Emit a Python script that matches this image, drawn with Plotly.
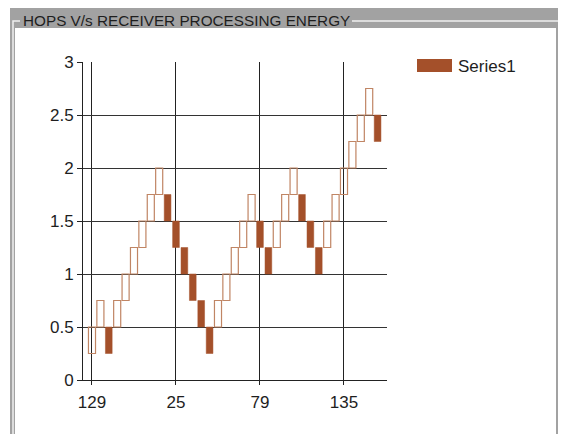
import plotly.graph_objects as go

# ---- data (brick chart, 0.25 brick size) ----
brick_low = [0.25, 0.5, 0.25, 0.5, 0.75, 1.0, 1.25, 1.5, 1.75, 1.5,
             1.25, 1.0, 0.75, 0.5, 0.25, 0.5, 0.75, 1.0, 1.25, 1.5,
             1.25, 1.0, 1.25, 1.5, 1.75, 1.5, 1.25, 1.0, 1.25, 1.5,
             1.75, 2.0, 2.25, 2.5, 2.25]
brick_high = [0.5, 0.75, 0.5, 0.75, 1.0, 1.25, 1.5, 1.75, 2.0, 1.75,
              1.5, 1.25, 1.0, 0.75, 0.5, 0.75, 1.0, 1.25, 1.5, 1.75,
              1.5, 1.25, 1.5, 1.75, 2.0, 1.75, 1.5, 1.25, 1.5, 1.75,
              2.0, 2.25, 2.5, 2.75, 2.5]
brick_dir = ["up", "up", "down", "up", "up", "up", "up", "up", "up", "down",
             "down", "down", "down", "down", "down", "up", "up", "up", "up", "up",
             "down", "down", "up", "up", "up", "down", "down", "down", "up", "up",
             "up", "up", "up", "up", "down"]
x_tick_pos = [0, 10, 20, 30]
x_tick_text = ["129", "25", "79", "135"]
series_name = "Series1"
title_text = "HOPS V/s RECEIVER PROCESSING ENERGY"

BROWN = "#A4502A"
OUTLINE = "#C08564"
FONT = "Liberation Sans, Arial"
OFF = 8                      # page body margin in the browser
W, H = 566 - OFF, 434 - OFF  # figure size so it fills the window
L, T, PW, PH = 83 - OFF, 62 - OFF, 304, 318


def px(x):   # page pixel -> paper coordinate
    return (x - OFF - L) / PW


def py(y):
    return 1 - (y - OFF - T) / PH


idx = list(range(len(brick_low)))
up_x = [i for i in idx if brick_dir[i] == "up"]
dn_x = [i for i in idx if brick_dir[i] == "down"]

fig = go.Figure()
fig.add_trace(go.Bar(
    x=up_x,
    y=[brick_high[i] - brick_low[i] for i in up_x],
    base=[brick_low[i] for i in up_x],
    width=0.84,
    marker=dict(color="rgba(255,255,255,0)", line=dict(color=OUTLINE, width=1.2)),
    name=series_name, showlegend=False,
))
fig.add_trace(go.Bar(
    x=dn_x,
    y=[brick_high[i] - brick_low[i] for i in dn_x],
    base=[brick_low[i] for i in dn_x],
    width=0.8,
    marker=dict(color=BROWN, line=dict(color=BROWN, width=0.5)),
    name=series_name, showlegend=False,
))

shapes = [
    # gray frame
    dict(type="rect", xref="paper", yref="paper", x0=px(10), x1=px(566), y0=py(434), y1=py(7),
         fillcolor="#A2A2A2", line=dict(width=0), layer="below"),
    # white panel
    dict(type="rect", xref="paper", yref="paper", x0=px(15), x1=px(556), y0=py(434), y1=py(28),
         fillcolor="#FFFFFF", line=dict(width=0), layer="below"),
    # group box outline
    dict(type="path", xref="paper", yref="paper",
         path=f"M {px(20)},{py(21)} L {px(13)},{py(21)} L {px(13)},{py(434)}",
         line=dict(color="#EFEFEF", width=1.5)),
    dict(type="path", xref="paper", yref="paper",
         path=f"M {px(352)},{py(21)} L {px(560)},{py(21)} L {px(560)},{py(434)}",
         line=dict(color="#EFEFEF", width=1.5)),
    # legend swatch
    dict(type="rect", xref="paper", yref="paper", x0=px(417), x1=px(452), y0=py(72), y1=py(59),
         fillcolor=BROWN, line=dict(width=0)),
]

annotations = [
    dict(text=title_text, xref="paper", yref="paper", x=px(21), y=py(20),
         xanchor="left", yanchor="middle", showarrow=False,
         font=dict(family=FONT, size=15.3, color="#1E1E1E")),
    dict(text=series_name, xref="paper", yref="paper", x=px(456), y=py(66),
         xanchor="left", yanchor="middle", showarrow=False,
         font=dict(family=FONT, size=17, color="#1E1E1E")),
]

fig.update_layout(
    width=W, height=H,
    margin=dict(l=L, r=W - L - PW, t=T, b=H - T - PH, autoexpand=False),
    paper_bgcolor="white", plot_bgcolor="white",
    barmode="overlay",
    showlegend=False,
    shapes=shapes,
    annotations=annotations,
    font=dict(family=FONT, size=17, color="#1E1E1E"),
)
fig.update_xaxes(
    range=[-1.07, 35.12],
    tickmode="array", tickvals=x_tick_pos, ticktext=x_tick_text,
    showgrid=True, gridcolor="#222222", gridwidth=1,
    showline=True, linecolor="#222222", linewidth=1,
    ticks="outside", ticklen=4, tickcolor="#222222",
    ticklabelstandoff=3,
    tickfont=dict(family=FONT, size=17, color="#1E1E1E"),
    zeroline=False, fixedrange=True,
)
fig.update_yaxes(
    range=[0, 3], dtick=0.5, tick0=0,
    showgrid=True, gridcolor="#333333", gridwidth=1,
    showline=True, linecolor="#222222", linewidth=1,
    ticks="outside", ticklen=5, tickcolor="#222222",
    tickfont=dict(family=FONT, size=17, color="#1E1E1E"),
    zeroline=False, fixedrange=True,
)

fig.write_html("out.html")
